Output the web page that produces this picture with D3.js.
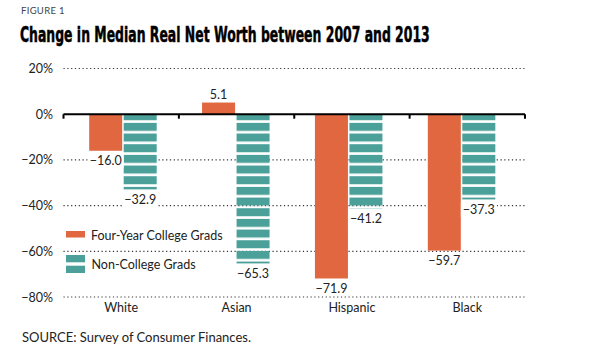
<!DOCTYPE html>
<html>
<head>
<meta charset="utf-8">
<script src="https://cdn.jsdelivr.net/npm/d3@7"></script>
<style>
  body { margin: 0; background: #fff; }
  svg text { font-family: Lato, "Open Sans", sans-serif; fill: #222; }
</style>
</head>
<body>
<svg id="chart" width="590" height="362"></svg>
<script>
const groups = ['White', 'Asian', 'Hispanic', 'Black'];
const collegeGrads = [-16.0, 5.1, -71.9, -59.7];
const nonCollegeGrads = [-32.9, -65.3, -41.2, -37.3];
const yTicks = [20, 0, -20, -40, -60, -80];
const seriesNames = ['Four-Year College Grads', 'Non-College Grads'];

const orange = '#E0673F';
const teal = '#4BA099';

const svg = d3.select('#chart');

// y scale: 20% .. -80%
const y = d3.scaleLinear().domain([-80, 20]).range([297, 68.5]);

// axis ticks/labels use full band, bars sit on slightly tighter band
const xAxisScale = d3.scaleBand().domain(groups).range([63.5, 525]);
const x = d3.scaleBand().domain(groups).range([66.5, 518]);
const barW = 33;
const barGap = 1.5;

// titles
svg.append('text')
  .attr('x', 21).attr('y', 14)
  .style('font-size', '9.5px').style('fill', '#444').style('letter-spacing', '0.3px')
  .text('FIGURE 1');

// condensed heavy title: squeeze with scaleX so it spans ~410px
const title = svg.append('text')
  .attr('x', 0).attr('y', 0)
  .style('font-family', '"DejaVu Sans Condensed", "DejaVu Sans", sans-serif')
  .style('font-weight', 'bold').style('font-size', '21.5px').style('fill', '#000')
  .style('stroke', '#000').style('stroke-width', '0.5px')
  .text('Change in Median Real Net Worth between 2007 and 2013');
const titleLen = title.node().getComputedTextLength();
title.attr('transform', `translate(20,42) scale(${410 / titleLen},1)`);

// stripe pattern for non-college bars
const defs = svg.append('defs');
const pat = defs.append('pattern')
  .attr('id', 'stripes')
  .attr('patternUnits', 'userSpaceOnUse')
  .attr('width', 10).attr('height', 10.67)
  .attr('x', 0).attr('y', y(0) - 2);
pat.append('rect').attr('width', 10).attr('height', 8).attr('fill', teal);

// gridlines (dotted)
svg.append('g')
  .selectAll('line')
  .data(yTicks.filter((d) => d !== 0))
  .enter()
  .append('line')
  .attr('x1', 63.5).attr('x2', 525)
  .attr('y1', (d) => y(d)).attr('y2', (d) => y(d))
  .attr('stroke', '#333').attr('stroke-width', 1.2)
  .attr('stroke-dasharray', '1.2,2.6');

// y labels
svg.append('g')
  .selectAll('text')
  .data(yTicks)
  .enter()
  .append('text')
  .attr('x', 53).attr('y', (d) => y(d) + 4.5)
  .attr('text-anchor', 'end')
  .style('font-size', '12.5px')
  .text((d) => (d < 0 ? '\u2212' + Math.abs(d) : d) + '%');

// bars
const bars = svg.append('g');
bars.selectAll('.college')
  .data(groups)
  .enter()
  .append('rect')
  .attr('class', 'college')
  .attr('x', (d) => x(d) + x.bandwidth() / 2 - barW - barGap / 2)
  .attr('width', barW)
  .attr('y', (d, i) => y(Math.max(0, collegeGrads[i])))
  .attr('height', (d, i) => Math.abs(y(collegeGrads[i]) - y(0)))
  .attr('fill', orange);

bars.selectAll('.noncollege')
  .data(groups)
  .enter()
  .append('rect')
  .attr('class', 'noncollege')
  .attr('x', (d) => x(d) + x.bandwidth() / 2 + barGap / 2)
  .attr('width', barW)
  .attr('y', (d, i) => y(Math.max(0, nonCollegeGrads[i])))
  .attr('height', (d, i) => Math.abs(y(nonCollegeGrads[i]) - y(0)))
  .attr('fill', 'url(#stripes)');

// zero axis with ticks
const zeroAxis = svg.append('g');
zeroAxis.append('line')
  .attr('x1', 63.5).attr('x2', 525)
  .attr('y1', y(0)).attr('y2', y(0))
  .attr('stroke', '#000').attr('stroke-width', 2);
zeroAxis.selectAll('.tick')
  .data(groups.map((d) => xAxisScale(d)).concat([xAxisScale.range()[1]]))
  .enter()
  .append('line')
  .attr('x1', (d) => d).attr('x2', (d) => d)
  .attr('y1', y(0)).attr('y2', y(0) + 4.5)
  .attr('stroke', '#000').attr('stroke-width', 2);

// value labels with white knockout
function fmt(v) {
  return (v < 0 ? '\u2212' : '') + Math.abs(v).toFixed(1);
}
function addLabel(cx, v) {
  const ty = v >= 0 ? y(v) - 4 : y(v) + 14.5;
  const g = svg.append('g');
  const t = g.append('text')
    .attr('x', cx).attr('y', ty)
    .attr('text-anchor', 'middle')
    .style('font-size', '12.5px')
    .text(fmt(v));
  const bb = t.node().getBBox();
  g.insert('rect', 'text')
    .attr('x', bb.x - 2).attr('y', bb.y)
    .attr('width', bb.width + 4).attr('height', bb.height)
    .attr('fill', '#fff');
}
groups.forEach((d, i) => {
  addLabel(x(d) + x.bandwidth() / 2 - barW / 2 - barGap / 2, collegeGrads[i]);
  addLabel(x(d) + x.bandwidth() / 2 + barW / 2 + barGap / 2, nonCollegeGrads[i]);
});

// category labels
svg.append('g')
  .selectAll('text')
  .data(groups)
  .enter()
  .append('text')
  .attr('x', (d) => xAxisScale(d) + xAxisScale.bandwidth() / 2)
  .attr('y', 312)
  .attr('text-anchor', 'middle')
  .style('font-size', '12.5px')
  .text((d) => d);

// legend
const legend = svg.append('g').attr('transform', 'translate(66, 231)');
legend.append('rect').attr('width', 19).attr('height', 6.5).attr('fill', orange);
legend.append('text').attr('x', 25).attr('y', 8.5).style('font-size', '12.5px').text(seriesNames[0]);
legend.append('rect').attr('y', 24).attr('width', 19).attr('height', 7.3).attr('fill', teal);
legend.append('rect').attr('y', 34.7).attr('width', 19).attr('height', 7.3).attr('fill', teal);
legend.append('text').attr('x', 25.5).attr('y', 37.5).style('font-size', '12.5px').text(seriesNames[1]);

// source
svg.append('text')
  .attr('x', 22).attr('y', 342)
  .style('font-size', '13px')
  .text('SOURCE: Survey of Consumer Finances.');
</script>
</body>
</html>
